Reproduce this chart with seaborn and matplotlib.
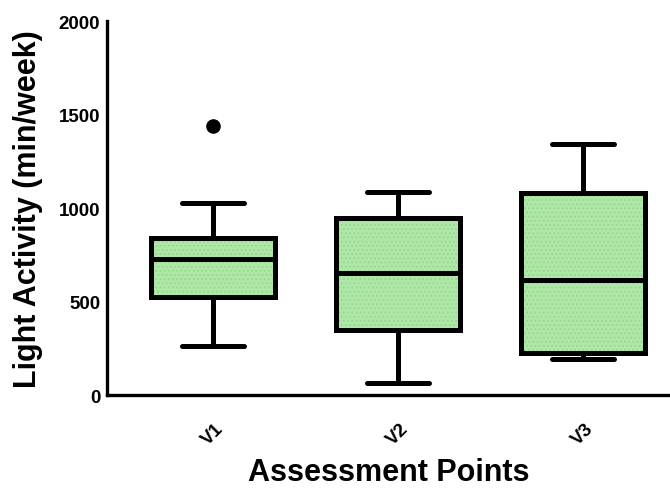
import numpy as np
import pandas as pd
import seaborn as sns
import matplotlib
matplotlib.use("Agg")
import matplotlib.pyplot as plt
from matplotlib.patches import PathPatch

# Values (chosen so quartiles/whiskers match the picture)
v1_values = [265, 400, 525, 620, 725, 800, 840, 1025, 1440]
v2_values = [65, 350, 655, 945, 1085]
v3_values = [195, 225, 615, 1080, 1345]
categories = ["V1", "V2", "V3"]
y_ticks = [0, 500, 1000, 1500, 2000]

df = pd.DataFrame({
    "Assessment Points": ["V1"] * len(v1_values) + ["V2"] * len(v2_values) + ["V3"] * len(v3_values),
    "Light Activity": v1_values + v2_values + v3_values,
})

sns.set_style("white")
plt.rcParams["font.family"] = ["Liberation Sans", "DejaVu Sans"]
plt.rcParams["font.weight"] = "bold"
plt.rcParams["text.color"] = "black"
plt.rcParams["axes.labelcolor"] = "black"
plt.rcParams["hatch.linewidth"] = 0.8

fig = plt.figure(figsize=(6.7, 4.89), dpi=100)
ax = fig.add_axes([0.16, 0.19, 0.84, 0.765])

lw = 3.6
fill = "#aee8a6"
sns.boxplot(
    data=df, x="Assessment Points", y="Light Activity", order=categories,
    ax=ax, width=0.67, color=fill, saturation=1, whis=1.5,
    linecolor="black", linewidth=lw,
    flierprops=dict(marker="o", markerfacecolor="black", markeredgecolor="black", markersize=9.5),
    medianprops=dict(color="black", linewidth=lw),
    boxprops=dict(edgecolor="black", linewidth=lw),
    whiskerprops=dict(color="black", linewidth=lw),
    capprops=dict(color="black", linewidth=lw),
)

# subtle dotted texture underneath the box outlines
for p in list(ax.patches):
    hp = PathPatch(p.get_path(), transform=p.get_transform(), facecolor=fill,
                   edgecolor="#9ad593", hatch="....", lw=0, zorder=p.get_zorder() - 0.05)
    ax.add_patch(hp)
    p.set_facecolor("none")

ax.set_xlim(-0.57, 2.47)
ax.set_ylim(0, 2000)
ax.set_yticks(y_ticks)
ax.set_yticklabels([str(t) for t in y_ticks], fontsize=13.5, fontweight="bold", color="black")
ax.set_xticks(range(len(categories)))
ax.set_xticklabels(categories, rotation=45, fontsize=13.5, fontweight="bold",
                   ha="center", va="top", color="black")

for s in ["top", "right"]:
    ax.spines[s].set_visible(False)
for s in ["left", "bottom"]:
    ax.spines[s].set_linewidth(2.4)
    ax.spines[s].set_color("black")
ax.tick_params(axis="both", direction="out", length=4, width=2.4, colors="black", pad=1)
ax.tick_params(axis="x", pad=14)

ax.set_ylabel("Light Activity (min/week)", fontsize=22, fontweight="bold", labelpad=11, color="black")
ax.set_xlabel("Assessment Points", fontsize=22, fontweight="bold", labelpad=6, color="black")

fig.savefig("out.png", dpi=100)
